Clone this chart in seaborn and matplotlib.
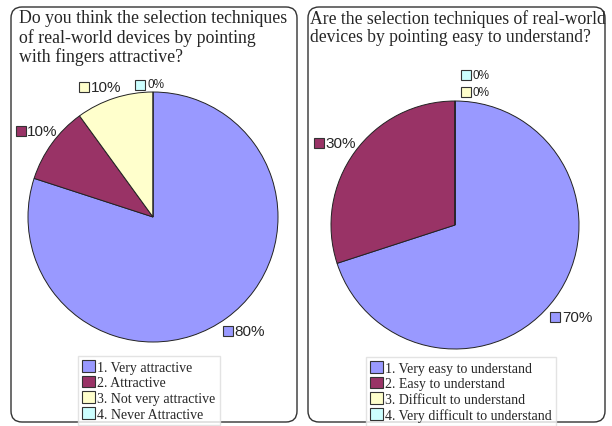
import numpy as np
import matplotlib
matplotlib.use("Agg")
import matplotlib.pyplot as plt
import seaborn as sns
from matplotlib.patches import FancyBboxPatch, Patch

sns.set_style("white")
plt.rcParams['font.family'] = ['Liberation Serif', 'DejaVu Serif']

# data
q1_title = "Do you think the selection techniques\nof real-world devices by pointing\nwith fingers attractive?"
q1_labels = ["1. Very attractive", "2. Attractive", "3. Not very attractive", "4. Never Attractive"]
q1_values = [80, 10, 10, 0]

q2_title = "Are the selection techniques of real-world\ndevices by pointing easy to understand?"
q2_labels = ["1. Very easy to understand", "2. Easy to understand",
             "3. Difficult to understand", "4. Very difficult to understand"]
q2_values = [70, 30, 0, 0]

colors = sns.color_palette(["#9999FF", "#993366", "#FFFFCC", "#CCFFFF"])

W, H = 612, 427
fig = plt.figure(figsize=(W / 100, H / 100), dpi=100)


def px_box(x0, y0, x1, y1):
    # pixel box (top-left origin) -> figure fraction
    return x0 / W, 1 - y1 / H, (x1 - x0) / W, (y1 - y0) / H


# rounded frames
for x0, x1 in [(11, 297), (308, 605)]:
    l, b, w, h = px_box(x0, 8, x1, 423)
    fig.patches.append(FancyBboxPatch((l, b), w, h, boxstyle="round,pad=0,rounding_size=0.018",
                                      transform=fig.transFigure, facecolor="none",
                                      edgecolor="#333333", linewidth=1.0, mutation_aspect=W / H,
                                      zorder=-1))

pct_font = ["Liberation Sans", "DejaVu Sans"]


def draw_pie(cx, cy, r, values, label_pos):
    lim = 1.3
    size = 2 * lim * r
    ax = fig.add_axes([(cx - size / 2) / W, (H - cy - size / 2) / H, size / W, size / H])
    ax.patch.set_alpha(0)
    ax.pie(values, colors=colors, startangle=90, counterclock=False, radius=1.0,
           wedgeprops=dict(edgecolor="#222222", linewidth=0.7))
    ax.set_xlim(-lim, lim)
    ax.set_ylim(-lim, lim)
    ax.set_aspect("equal")
    ax.axis("off")
    for v, c, (x, y) in zip(values, colors, label_pos):
        fs = 11 if v > 0 else 8.5
        ms = 7.5 if v > 0 else 6.5
        ax.plot([x], [y], marker="s", markersize=ms, markerfacecolor=c,
                markeredgecolor="#333333", markeredgewidth=0.8, linestyle="none", clip_on=False)
        ax.text(x + 0.055, y, f"{v}%", ha="left", va="center", fontsize=fs, family=pct_font)
    return ax


draw_pie(153, 218, 125, q1_values,
         [(0.60, -0.91), (-1.06, 0.69), (-0.55, 1.04), (-0.10, 1.06)])
draw_pie(455, 226, 124, q2_values,
         [(0.81, -0.74), (-1.10, 0.66), (0.09, 1.07), (0.09, 1.21)])

# titles
fig.text(19 / W, 1 - 10 / H, q1_title, ha="left", va="top", fontsize=12.8, linespacing=1.12)
fig.text(310 / W, 1 - 10 / H, q2_title, ha="left", va="top", fontsize=12.7, linespacing=1.12)

# legends
for labels, (x0, y0) in [(q1_labels, (78, 357)), (q2_labels, (366, 358))]:
    handles = [Patch(facecolor=c, edgecolor="#333333", linewidth=0.8) for c in colors]
    fig.legend(handles, labels, loc="upper left", bbox_to_anchor=(x0 / W, 1 - y0 / H),
               fontsize=10, frameon=True, fancybox=False, edgecolor="#dddddd",
               handlelength=0.9, handleheight=0.9, handletextpad=0.2, labelspacing=0.15,
               borderpad=0.3, borderaxespad=0)

fig.savefig("out.png", dpi=100)
